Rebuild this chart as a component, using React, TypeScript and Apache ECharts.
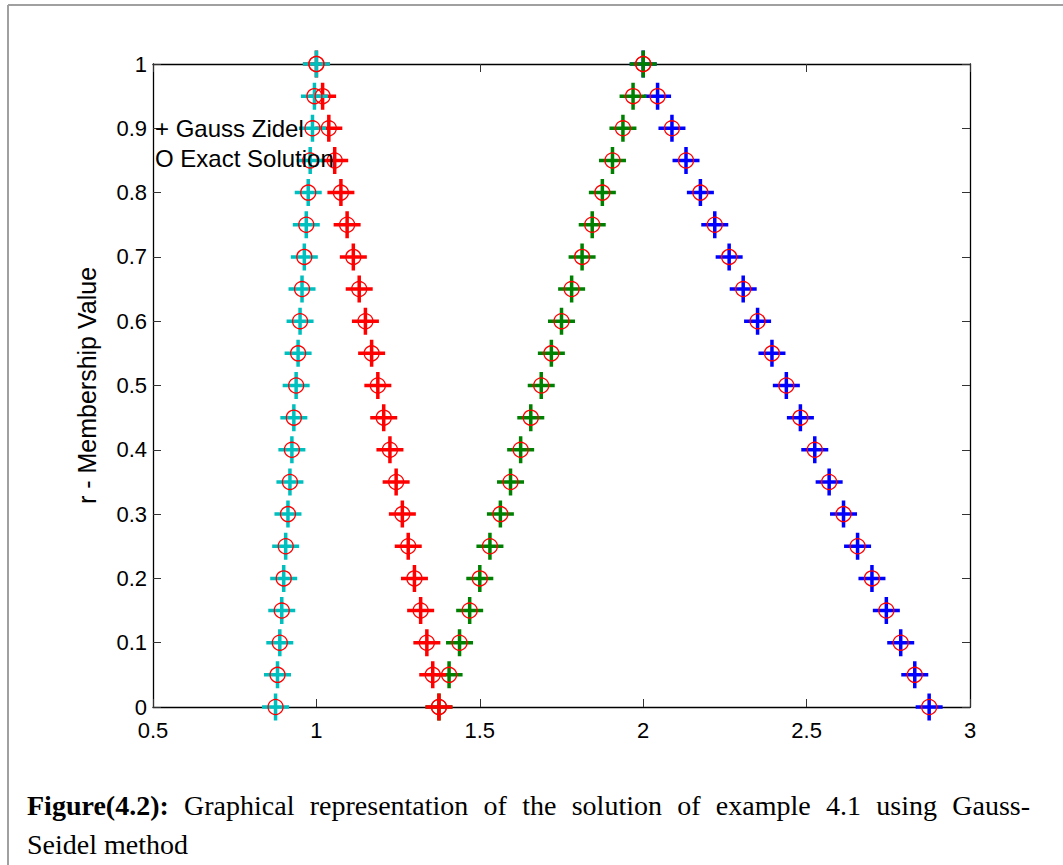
import React, { useEffect, useRef } from "react";
import * as echarts from "echarts";

const yLevels = [0, 0.05, 0.1, 0.15, 0.2, 0.25, 0.3, 0.35, 0.4, 0.45, 0.5, 0.55, 0.6, 0.65, 0.7, 0.75, 0.8, 0.85, 0.9, 0.95, 1.0];
const cyanX = [0.875, 0.881, 0.888, 0.894, 0.9, 0.906, 0.913, 0.919, 0.925, 0.931, 0.938, 0.944, 0.95, 0.956, 0.963, 0.969, 0.975, 0.981, 0.988, 0.994, 1.0];
const redX = [1.375, 1.356, 1.338, 1.319, 1.3, 1.281, 1.263, 1.244, 1.225, 1.206, 1.188, 1.169, 1.15, 1.131, 1.113, 1.094, 1.075, 1.056, 1.038, 1.019, 1.0];
const greenX = [1.375, 1.406, 1.438, 1.469, 1.5, 1.531, 1.563, 1.594, 1.625, 1.656, 1.688, 1.719, 1.75, 1.781, 1.813, 1.844, 1.875, 1.906, 1.938, 1.969, 2.0];
const blueX = [2.875, 2.831, 2.788, 2.744, 2.7, 2.656, 2.613, 2.569, 2.525, 2.481, 2.438, 2.394, 2.35, 2.306, 2.263, 2.219, 2.175, 2.131, 2.088, 2.044, 2.0];

const xTicks = ["0.5", "1", "1.5", "2", "2.5", "3"];
const yTicks = ["0", "0.1", "0.2", "0.3", "0.4", "0.5", "0.6", "0.7", "0.8", "0.9", "1"];

const legendLines = ["+ Gauss Zidel", "O Exact Solution"];
const yAxisTitle = "r - Membership Value";
const captionBold = "Figure(4.2):";
const captionWords1 = ["Graphical", "representation", "of", "the", "solution", "of", "example", "4.1", "using", "Gauss-"];
const captionLine2 = "Seidel method";

const PLUS = "path://M0,11.75H27V15.25H0Z M11.75,0H15.25V27H11.75Z";
const SANS = "Liberation Sans, Arial, sans-serif";
const SERIF = "Liberation Serif, Times New Roman, serif";

function measure(text: string, font: string): number {
  const c = document.createElement("canvas");
  const ctx = c.getContext("2d");
  if (!ctx) return text.length * 12;
  ctx.font = font;
  return ctx.measureText(text).width;
}

export default function App() {
  const ref = useRef<HTMLDivElement>(null);
  useEffect(() => {
    if (!ref.current) return;
    const chart = echarts.init(ref.current, null, { renderer: "svg" });
    const pts = (xs: number[]) => xs.map((x, i) => [x, yLevels[i]]);
    const plusSeries = (name: string, xs: number[], color: string) => ({
      name,
      type: "scatter",
      data: pts(xs),
      symbol: PLUS,
      symbolSize: [27, 27],
      itemStyle: { color, opacity: 1 },
      emphasis: { disabled: true },
      silent: true,
    });
    const circleSeries = (name: string, xs: number[]) => ({
      name,
      type: "scatter",
      data: pts(xs),
      symbol: "circle",
      symbolSize: 15,
      itemStyle: { color: "rgba(0,0,0,0)", borderColor: "#ff0000", borderWidth: 1.3, opacity: 1 },
      emphasis: { disabled: true },
      silent: true,
      z: 5,
    });
    const tickIdx = (v: number, arr: string[], step: number, min: number) => {
      const k = Math.round((v - min) / step);
      return arr[k] !== undefined ? arr[k] : String(v);
    };

    // justified first caption line (from x=27 to x=1030)
    const boldFont = `bold 28px ${SERIF}`;
    const normFont = `28px ${SERIF}`;
    const left = 27;
    const right = 1030;
    const words = [captionBold, ...captionWords1];
    const fonts = words.map((_, i) => (i === 0 ? boldFont : normFont));
    const widths = words.map((w, i) => measure(w, fonts[i]));
    const total = widths.reduce((a, b) => a + b, 0);
    const gap = (right - left - total) / (words.length - 1);
    let cx = left;
    const captionEls: any[] = words.map((w, i) => {
      const el = {
        type: "text",
        x: cx,
        y: 805,
        z: 100,
        style: { text: w, fill: "#000", font: fonts[i], verticalAlign: "middle", align: "left" },
      };
      cx += widths[i] + gap;
      return el;
    });

    chart.setOption({
      animation: false,
      backgroundColor: "#ffffff",
      grid: { left: 153, top: 64, right: 93, bottom: 158, containLabel: false },
      xAxis: [
        {
          type: "value",
          min: 0.5,
          max: 3,
          interval: 0.5,
          position: "bottom",
          axisLine: { onZero: false, lineStyle: { color: "#000", width: 1.3 } },
          axisTick: { inside: true, length: 8, lineStyle: { color: "#333", width: 1 } },
          axisLabel: {
            color: "#000",
            fontFamily: SANS,
            fontSize: 22,
            lineHeight: 22,
            margin: 12,
            formatter: (v: number) => tickIdx(v, xTicks, 0.5, 0.5),
          },
          splitLine: { show: false },
        },
        {
          type: "value",
          min: 0.5,
          max: 3,
          interval: 0.5,
          position: "top",
          axisLine: { onZero: false, lineStyle: { color: "#000", width: 1.3 } },
          axisTick: { inside: true, length: 8, lineStyle: { color: "#333", width: 1 } },
          axisLabel: { show: false },
          splitLine: { show: false },
        },
      ],
      yAxis: [
        {
          type: "value",
          min: 0,
          max: 1,
          interval: 0.1,
          position: "left",
          name: yAxisTitle,
          nameLocation: "middle",
          nameGap: 54,
          nameTextStyle: { color: "#000", fontFamily: SANS, fontSize: 25 },
          axisLine: { onZero: false, lineStyle: { color: "#000", width: 1.3 } },
          axisTick: { inside: true, length: 8, lineStyle: { color: "#333", width: 1 } },
          axisLabel: {
            color: "#000",
            fontFamily: SANS,
            fontSize: 22,
            lineHeight: 18,
            margin: 6,
            formatter: (v: number) => tickIdx(v, yTicks, 0.1, 0),
          },
          splitLine: { show: false },
        },
        {
          type: "value",
          min: 0,
          max: 1,
          interval: 0.1,
          position: "right",
          axisLine: { onZero: false, lineStyle: { color: "#000", width: 1.3 } },
          axisTick: { inside: true, length: 8, lineStyle: { color: "#333", width: 1 } },
          axisLabel: { show: false },
          splitLine: { show: false },
        },
      ],
      series: [
        plusSeries("x2 upper", blueX, "#0000ff"),
        plusSeries("x2 lower", greenX, "#008000"),
        plusSeries("x1 upper", redX, "#ff0000"),
        plusSeries("x1 lower", cyanX, "#00bfbf"),
        circleSeries("exact x2 upper", blueX),
        circleSeries("exact x2 lower", greenX),
        circleSeries("exact x1 upper", redX),
        circleSeries("exact x1 lower", cyanX),
      ],
      graphic: [
        { type: "line", shape: { x1: 8, y1: 5, x2: 1063, y2: 5 }, style: { stroke: "#a0a0a0", lineWidth: 2 }, z: 200 },
        { type: "line", shape: { x1: 8, y1: 5, x2: 8, y2: 865 }, style: { stroke: "#a0a0a0", lineWidth: 2 }, z: 200 },
        {
          type: "text",
          x: 155,
          y: 128,
          z: 100,
          style: { text: legendLines[0], fill: "#000", font: `24px ${SANS}`, verticalAlign: "middle", align: "left" },
        },
        {
          type: "text",
          x: 155,
          y: 158,
          z: 100,
          style: { text: legendLines[1], fill: "#000", font: `24px ${SANS}`, verticalAlign: "middle", align: "left" },
        },
        ...captionEls,
        {
          type: "text",
          x: 27,
          y: 844,
          z: 100,
          style: { text: captionLine2, fill: "#000", font: normFont, verticalAlign: "middle", align: "left" },
        },
      ],
    });
    return () => chart.dispose();
  }, []);
  return <div ref={ref} style={{ width: 1063, height: 865, position: "absolute", left: 0, top: 0 }} />;
}
